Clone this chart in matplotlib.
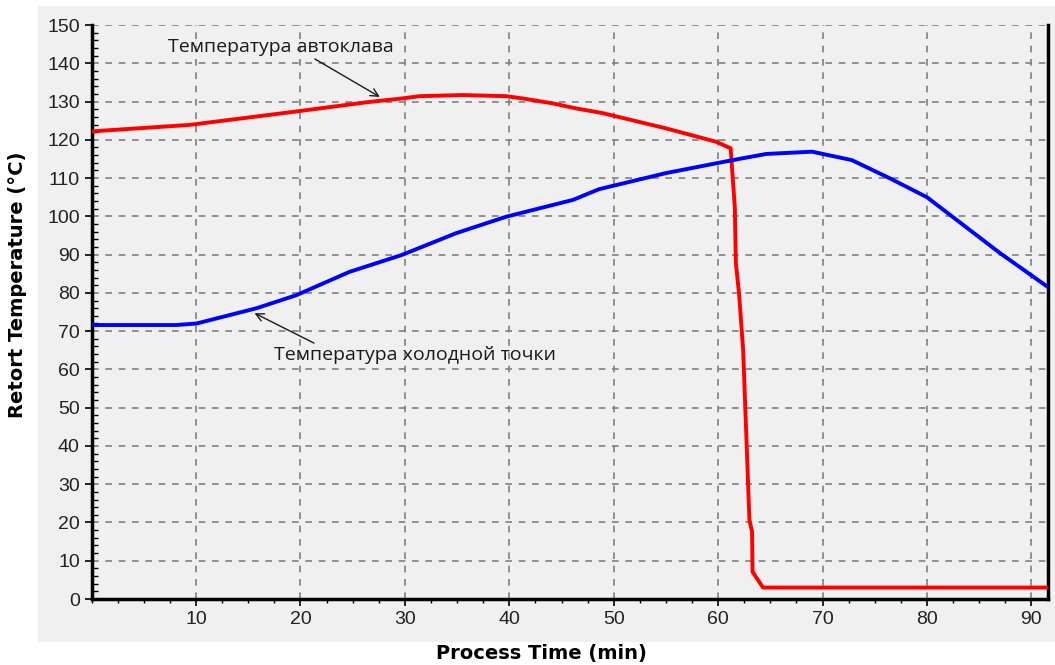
import matplotlib.pyplot as plt
from matplotlib.patches import Rectangle
from matplotlib.ticker import MultipleLocator

# autoclave (retort) temperature
retort_t = [0, 9.4, 19.3, 26.6, 29.7, 31.4, 35.5, 39.7, 41.3, 44.2, 46.4, 48.9,
            55.0, 59.8, 61.2, 61.4, 61.6, 61.7, 62.0, 62.4, 63.0, 63.25, 63.3, 64.3, 91.6]
retort_temp = [122.2, 123.9, 127.3, 129.9, 130.8, 131.4, 131.7, 131.4, 130.8, 129.5, 128.2, 127.0,
               123.0, 119.5, 117.8, 110.0, 102.5, 87.8, 80.0, 65.0, 20.6, 17.6, 7.1, 3.0, 3.0]

# cold point temperature
cold_t = [0, 8.1, 10.05, 15.8, 19.6, 24.7, 29.7, 34.9, 39.7, 46.1, 48.6, 55.0,
          61.4, 64.6, 69.0, 72.8, 76.4, 80.0, 87.0, 91.6]
cold_temp = [71.6, 71.6, 72.0, 76.0, 79.4, 85.5, 89.9, 95.6, 99.9, 104.3, 107.1, 111.3,
             114.7, 116.3, 116.9, 114.7, 110.0, 105.0, 90.4, 81.5]

x_ticks = [10, 20, 30, 40, 50, 60, 70, 80, 90]
y_ticks = list(range(0, 151, 10))

fig = plt.figure(figsize=(10.55, 6.65), dpi=100)
fig.patches.append(Rectangle((38 / 1055, 1 - 641 / 665), 1 - 38 / 1055, 635 / 665,
                             transform=fig.transFigure, color='#f0f0f0', zorder=-5))
ax = fig.add_axes([0.0869, 0.0992, 0.9065, 0.8632])
ax.set_facecolor('#f0f0f0')

ax.plot(retort_t, retort_temp, color='#ff0000', lw=2.8, zorder=3)
ax.plot(cold_t, cold_temp, color='#0000ff', lw=2.8, zorder=3)

ax.set_xlim(0, 91.6)
ax.set_ylim(0, 150)
ax.set_xticks(x_ticks)
ax.set_yticks(y_ticks)
ax.xaxis.set_minor_locator(MultipleLocator(2.5))
ax.yaxis.set_minor_locator(MultipleLocator(2))

ax.grid(True, which='major', color='#808080', linestyle=(0, (4, 4)), lw=1.2)
ax.tick_params(axis='both', which='major', labelsize=14, length=5, width=1.2, colors='black')
ax.tick_params(axis='x', which='minor', length=3, width=1)
ax.tick_params(axis='y', which='minor', direction='in', length=4, width=1)
for lab in ax.get_xticklabels() + ax.get_yticklabels():
    lab.set_fontfamily('Liberation Sans')
    lab.set_color('#222222')

ax.spines['top'].set_visible(False)
for s in ['left', 'bottom', 'right']:
    ax.spines[s].set_linewidth(2.5)
    ax.spines[s].set_color('black')

ax.set_xlabel('Process Time (min)', fontsize=14, fontweight='bold')
ax.set_ylabel('Retort Temperature (°C)', fontsize=14, fontweight='bold')
ax.xaxis.set_label_coords(0.47, -0.078)
ax.yaxis.set_label_coords(-0.068, 0.547)

ax.annotate('Температура автоклава', xy=(27.6, 131.2), xytext=(7.3, 144.2),
            fontsize=14, family='Open Sans', va='center', ha='left', color='#1a1a1a',
            arrowprops=dict(arrowstyle='->', color='#1a1a1a', lw=1,
                            shrinkA=0, shrinkB=0, relpos=(0.63, 0.0)))
ax.annotate('Температура холодной точки', xy=(15.6, 74.7), xytext=(17.5, 63.8),
            fontsize=14, family='Open Sans', va='center', ha='left', color='#1a1a1a',
            arrowprops=dict(arrowstyle='->', color='#1a1a1a', lw=1,
                            shrinkA=0, shrinkB=0, relpos=(0.16, 1.0)))

fig.savefig('out.png', dpi=100)
